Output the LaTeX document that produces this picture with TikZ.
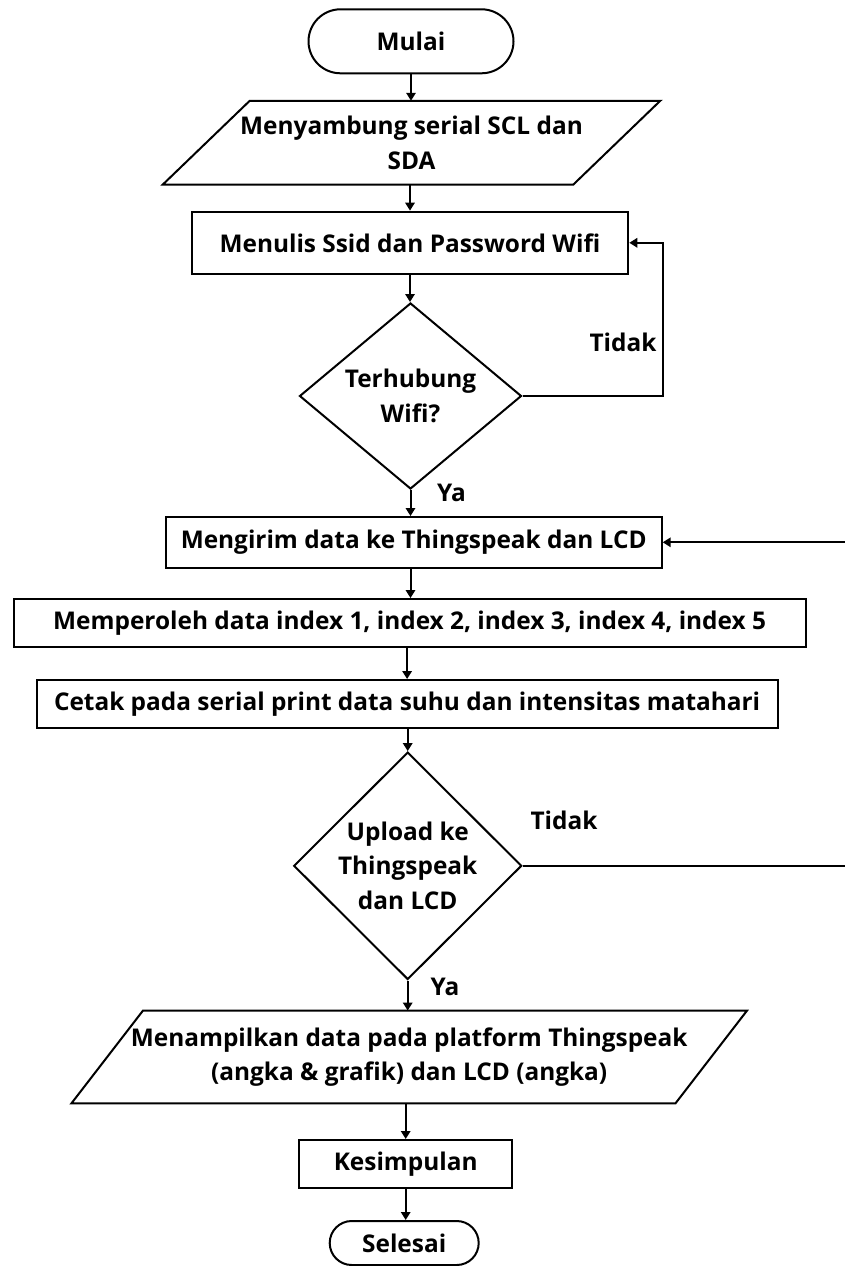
\documentclass[tikz,border=0pt]{standalone}
\usepackage{fontspec}
\setmainfont{Open Sans}[Ligatures=NoCommon]
\usetikzlibrary{shapes.geometric,arrows.meta,calc}
\newdimen\px \px=0.75pt
\begin{document}
\begin{tikzpicture}[x=0.75pt,y=-0.75pt,
  every node/.style={font=\fontsize{18.3pt}{26pt}\selectfont\bfseries, inner sep=0pt, align=center},
  shp/.style={draw, line width=1.5pt},
  procbox/.style={shp, rectangle, minimum width=#1},
  termbox/.style={shp, rectangle, rounded corners=#1},
  iobox/.style={rectangle, minimum width=#1},
  iodraw/.style={line width=1.5pt, line join=miter},
  decbox/.style={shp, diamond},
  arr/.style={line width=1.5pt, -{Triangle[length=6pt,width=7pt]}},
  lbl/.style={}]
\fill[white] (0,0) rectangle (845,1266);
\clip (0,0) rectangle (845,1266);

\node[termbox=32\px, minimum width=205\px, minimum height=64\px] (mulai) at (411,41.3) {Mulai};
\node[iobox=410\px, minimum height=83.3\px] (para1) at (411.5,142.7) {Menyambung serial SCL dan\\SDA};
\draw[iodraw] ([xshift=43.5\px]para1.north west) -- ([xshift=43.5\px]para1.north east)
  -- ([xshift=-43.5\px]para1.south east) -- ([xshift=-43.5\px]para1.south west) -- cycle;
\node[procbox=436.6\px, minimum height=62.3\px] (menulis) at (410,242.8) {Menulis Ssid dan Password Wifi};
\node[decbox, minimum width=222\px, minimum height=186\px] (dia1) at (410.5,396) {Terhubung\\Wifi?};
\node[procbox=496\px, minimum height=50.5\px] (kirim) at (413.7,542.3) {Mengirim data ke Thingspeak dan LCD};
\node[procbox=792\px, minimum height=48.3\px] (oleh) at (409.6,623.2) {Memperoleh data index 1, index 2, index 3, index 4, index 5};
\node[procbox=741\px, minimum height=47.7\px] (cetak) at (407.1,703.9) {Cetak pada serial print data suhu dan intensitas matahari};
\node[decbox, minimum width=228\px, minimum height=218\px] (dia2) at (407.7,865.8) {Upload ke\\Thingspeak\\dan LCD};
\node[iobox=603.5\px, minimum height=92.3\px] (para2) at (409.2,1057) {Menampilkan data pada platform Thingspeak\\(angka \& grafik) dan LCD (angka)};
\draw[iodraw] ([xshift=35.8\px]para2.north west) -- ([xshift=35.8\px]para2.north east)
  -- ([xshift=-35.8\px]para2.south east) -- ([xshift=-35.8\px]para2.south west) -- cycle;
\node[procbox=213.5\px, minimum height=48\px] (simpul) at (405.7,1164) {Kesimpulan};
\node[termbox=22\px, minimum width=149\px, minimum height=44\px] (selesai) at (404.2,1243) {Selesai};

\node[lbl] (t1) at (623,342) {Tidak};
\node[lbl] (y1) at (451.5,493) {Ya};
\node[lbl] (t2) at (564,820) {Tidak};
\node[lbl] (y2) at (445,987) {Ya};

\coordinate (r1) at (663,0);
\coordinate (r2) at (849,0);

\draw[arr] (mulai.south) -- (mulai.south |- para1.north);
\draw[arr] (menulis.north |- para1.south) -- (menulis.north);
\draw[arr] (menulis.south) -- (menulis.south |- dia1.north);
\draw[arr] (dia1.south) -- (dia1.south |- kirim.north);
\draw[arr] (dia1.south |- kirim.south) -- (dia1.south |- oleh.north);
\draw[arr] (cetak.north |- oleh.south) -- (cetak.north);
\draw[arr] (dia2.north |- cetak.south) -- (dia2.north);
\draw[arr] (dia2.south) -- (dia2.south |- para2.north);
\draw[arr] (simpul.north |- para2.south) -- (simpul.north);
\draw[arr] (simpul.south) -- (simpul.south |- selesai.north);
\draw[arr] (dia1.east) -| (r1 |- menulis.east) -- (menulis.east);
\draw[arr] (dia2.east) -| (r2 |- kirim.east) -- (kirim.east);
\end{tikzpicture}
\end{document}
